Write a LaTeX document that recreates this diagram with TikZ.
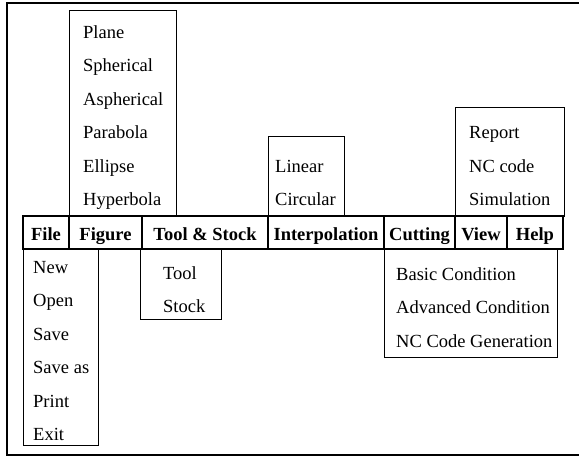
\documentclass[tikz,border=0pt]{standalone}
\usepackage{fontspec}
\setmainfont{Liberation Serif}
\usetikzlibrary{positioning}

\begin{document}
\begin{tikzpicture}[
            x=1pt, y=-1pt,
            menu/.style={draw, line width=1.2pt, font=\bfseries, inner sep=0pt, minimum height=33pt, text height=16pt, text depth=0pt},
            pane/.style={draw, line width=1.2pt, inner sep=0pt, anchor=north west},
            item/.style={anchor=base west, inner sep=0pt}
        ]
            \fontsize{18.5}{22}\selectfont
            \useasboundingbox (0,0) rectangle (579,456);
            % outer frame
            \draw[line width=1.4pt] (579,3) -- (7,3) -- (7,455) -- (579,455);

            % drop-down panes
            \node[pane, minimum width=107pt, minimum height=206pt] (figpane) at (69,10) {};
            \node[pane, minimum width=76pt, minimum height=80pt] (interppane) at (268,136) {};
            \node[pane, minimum width=109pt, minimum height=109pt] (viewpane) at (455,107) {};
            \node[pane, minimum width=75pt, minimum height=196pt] (filepane) at (23,249) {};
            \node[pane, minimum width=81pt, minimum height=70pt] (toolpane) at (140,249) {};
            \node[pane, minimum width=173pt, minimum height=108pt] (cutpane) at (384,249) {};

            % menu bar
            \node[menu, minimum width=46pt] (file)   at (46,232.5)    {File};
            \node[menu, minimum width=73pt] (figure) at (105.5,232.5) {Figure};
            \node[menu, minimum width=126pt] (tool)  at (205,232.5)   {Tool \& Stock};
            \node[menu, minimum width=116pt] (interp) at (326,232.5)  {Interpolation};
            \node[menu, minimum width=71pt] (cut)    at (419.5,232.5) {Cutting};
            \node[menu, minimum width=52pt] (view)   at (481,232.5)   {View};
            \node[menu, minimum width=56pt] (help)   at (535,232.5)   {Help};

            % Figure items
            \node[item] (plane) at (83,38)    {Plane};
            \node[item] (sph)   at (83,71.5)  {Spherical};
            \node[item] (asph)  at (83,105)   {Aspherical};
            \node[item] (para)  at (83,138.5) {Parabola};
            \node[item] (ell)   at (83,172)   {Ellipse};
            \node[item] (hyp)   at (83,205.5) {Hyperbola};

            % Interpolation items
            \node[item] (lin)  at (275,172)   {Linear};
            \node[item] (circ) at (275,205.5) {Circular};

            % View items
            \node[item] (report) at (469,138.5) {Report};
            \node[item] (nccode) at (469,172)   {NC code};
            \node[item] (simu)   at (469,205.5) {Simulation};

            % File items
            \node[item] (new)    at (33,273)   {New};
            \node[item] (open)   at (33,306.5) {Open};
            \node[item] (save)   at (33,340)   {Save};
            \node[item] (saveas) at (33,373.5) {Save as};
            \node[item] (print)  at (33,407)   {Print};
            \node[item] (exit)   at (33,440.5) {Exit};

            % Tool & Stock items
            \node[item] (toolit)  at (163,279) {Tool};
            \node[item] (stockit) at (163,312) {Stock};

            % Cutting items
            \node[item] (basic) at (396,280)   {Basic Condition};
            \node[item] (adv)   at (396,313.5) {Advanced Condition};
            \node[item] (ncgen) at (396,347)   {NC Code Generation};
        \end{tikzpicture}
\end{document}
